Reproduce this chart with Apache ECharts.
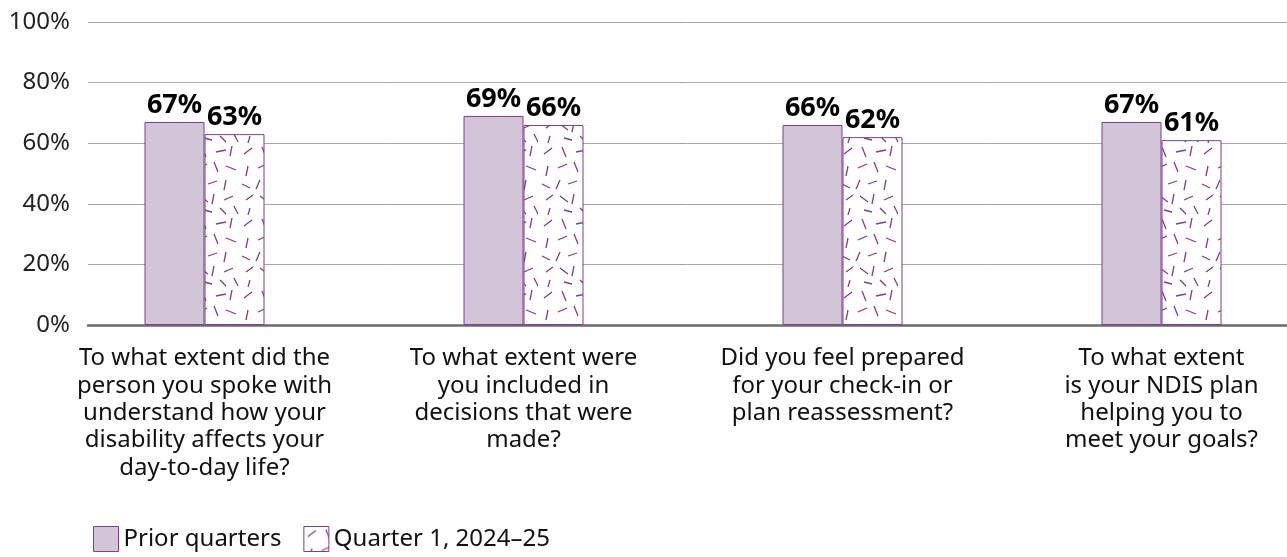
<!DOCTYPE html>
<html>
<head>
<meta charset="utf-8">
<script src="https://cdn.jsdelivr.net/npm/echarts@6/dist/echarts.min.js"></script>
<style>
  html, body { margin: 0; padding: 0; background: #fff; }
  #chart { width: 1287px; height: 557px; }
</style>
</head>
<body>
<div id="chart"></div>
<script>
const categories = [
  'To what extent did the\nperson you spoke with\nunderstand how your\ndisability affects your\nday-to-day life?',
  'To what extent were\nyou included in\ndecisions that were\nmade?',
  'Did you feel prepared\nfor your check-in or\nplan reassessment?',
  'To what extent\nis your NDIS plan\nhelping you to\nmeet your goals?'
]
const priorQuarters = [67, 69, 66, 67]
const quarter1 = [63, 66, 62, 61]
const seriesNames = ['Prior quarters', 'Quarter 1, 2024\u201325']

const FONT = '"Noto Sans", sans-serif'
const PURPLE = '#7d3f91'

// hand-placed dashes for the hatched fill (x1, y1, x2, y2)
function makeDashPattern() {
  const c = document.createElement('canvas')
  c.width = 60
  c.height = 72
  const ctx = c.getContext('2d')
  ctx.fillStyle = '#fff'
  ctx.fillRect(0, 0, 60, 72)
  ctx.strokeStyle = PURPLE
  ctx.lineWidth = 1.3
  const dashes = [
    [4, 10, 12, 4], [22, 3, 26, 13], [36, 8, 46, 6], [52, 2, 50, 12],
    [8, 22, 6, 32], [18, 24, 27, 20], [34, 18, 38, 28], [46, 22, 56, 26],
    [2, 40, 10, 44], [20, 36, 16, 45], [28, 40, 37, 37], [46, 36, 44, 46],
    [6, 56, 13, 51], [20, 52, 28, 58], [34, 50, 32, 60], [44, 56, 53, 52],
    [10, 64, 8, 71], [24, 66, 32, 68], [40, 64, 46, 70], [54, 62, 58, 70]
  ]
  ctx.beginPath()
  dashes.forEach(d => {
    ctx.moveTo(d[0], d[1])
    ctx.lineTo(d[2], d[3])
  })
  ctx.stroke()
  return c
}

const chart = echarts.init(document.getElementById('chart'))
const pattern = makeDashPattern()

const barLabel = {
  show: true,
  position: 'top',
  distance: 3,
  formatter: '{c}%',
  fontSize: 27,
  fontWeight: 'bold',
  color: '#000',
  fontFamily: FONT
}

const option = {
  animation: false,
  textStyle: { fontFamily: FONT },
  legend: {
    left: 88,
    top: 521,
    icon: 'rect',
    itemWidth: 25,
    itemHeight: 25,
    itemGap: 22,
    textStyle: { fontSize: 24, color: '#111', fontFamily: FONT },
    data: [
      { name: seriesNames[0], itemStyle: { color: '#d3c5d8', borderColor: PURPLE, borderWidth: 1 } },
      { name: seriesNames[1], itemStyle: { color: { image: pattern, repeat: 'repeat' }, borderColor: PURPLE, borderWidth: 1 } }
    ]
  },
  grid: [
    // gridlines, y labels and baseline
    { left: 88, right: 0, top: 22, bottom: 232, outerBoundsMode: 'none', containLabel: false },
    // bars, with category bands placed like the source
    { left: 45, width: 1276, top: 22, bottom: 232, outerBoundsMode: 'none', containLabel: false }
  ],
  xAxis: [
    {
      gridIndex: 0,
      type: 'category',
      data: categories,
      axisLine: { lineStyle: { color: '#6b6b6b', width: 2.5 } },
      axisTick: { show: false },
      axisLabel: { show: false }
    },
    {
      gridIndex: 1,
      type: 'category',
      data: categories,
      axisLine: { show: false },
      axisTick: { show: false },
      axisLabel: {
        interval: 0,
        margin: 20,
        fontSize: 24,
        lineHeight: 27.3,
        color: '#111',
        fontFamily: FONT,
        align: 'center'
      }
    }
  ],
  yAxis: [
    {
      gridIndex: 0,
      type: 'value',
      min: 0,
      max: 100,
      interval: 20,
      axisLine: { show: false },
      axisTick: { show: false },
      axisLabel: {
        formatter: '{value}%',
        fontSize: 24,
        color: '#222',
        margin: 18,
        fontFamily: FONT
      },
      splitLine: { lineStyle: { color: '#a8a8a8', width: 1 } }
    },
    {
      gridIndex: 1,
      type: 'value',
      min: 0,
      max: 100,
      interval: 20,
      show: false,
      splitLine: { show: false }
    }
  ],
  series: [
    {
      name: seriesNames[0],
      type: 'bar',
      xAxisIndex: 1,
      yAxisIndex: 1,
      data: priorQuarters,
      barWidth: 60,
      barGap: '0%',
      itemStyle: { color: '#d3c5d8', borderColor: PURPLE, borderWidth: 1 },
      label: barLabel
    },
    {
      name: seriesNames[1],
      type: 'bar',
      xAxisIndex: 1,
      yAxisIndex: 1,
      data: quarter1,
      barWidth: 60,
      barGap: '0%',
      itemStyle: { color: { image: pattern, repeat: 'repeat' }, borderColor: PURPLE, borderWidth: 1 },
      label: barLabel
    }
  ]
}

chart.setOption(option, true)
</script>
</body>
</html>
